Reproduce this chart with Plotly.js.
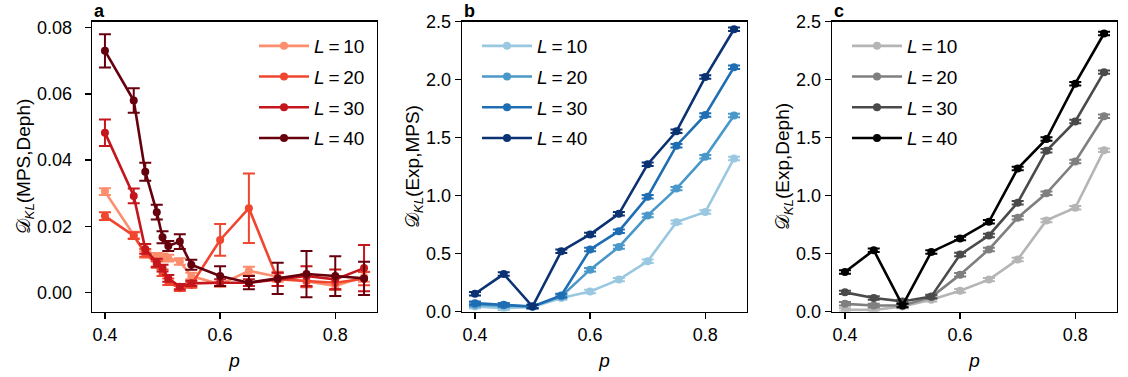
<!DOCTYPE html>
<html>
<head>
<meta charset="utf-8">
<script src="https://cdn.plot.ly/plotly-3.0.1.min.js"></script>
<style>html,body{margin:0;padding:0;background:#fff;}#plot{width:1128px;height:377px;}</style>
</head>
<body>
<div id="plot"></div>
<script>
// ---- data ----
const pA = [0.4, 0.45, 0.47, 0.49, 0.5, 0.51, 0.53, 0.55, 0.6, 0.65, 0.7, 0.75, 0.8, 0.85];
const pBC = [0.4, 0.45, 0.5, 0.55, 0.6, 0.65, 0.7, 0.75, 0.8, 0.85];
const seriesNames = ["<i>L</i>\u2009=\u200910", "<i>L</i>\u2009=\u200920", "<i>L</i>\u2009=\u200930", "<i>L</i>\u2009=\u200940"];

// Panel a: D_KL(MPS,Deph)
const a_L10 = [0.0305, 0.0174, 0.0115, 0.0110, 0.0108, 0.0104, 0.0094, 0.0050, 0.0025, 0.0066, 0.0048, 0.0033, 0.0020, 0.0048];
const a_L20 = [0.0231, 0.0172, 0.0120, 0.0085, 0.0060, 0.0033, 0.0013, 0.0023, 0.0159, 0.0255, 0.0040, 0.0036, 0.0030, 0.0042];
const a_L30 = [0.0483, 0.0292, 0.0132, 0.0090, 0.0074, 0.0043, 0.0018, 0.0028, 0.0030, 0.0030, 0.0040, 0.0050, 0.0040, 0.0074];
const a_L40 = [0.0730, 0.0580, 0.0365, 0.0243, 0.0167, 0.0141, 0.0154, 0.0084, 0.0050, 0.0030, 0.0043, 0.0056, 0.0050, 0.0043];
const a_err10 = [0.0010, 0.0010, 0.0010, 0.0010, 0.0010, 0.0010, 0.0010, 0.0010, 0.0008, 0.0012, 0.0015, 0.0015, 0.0012, 0.0015];
const a_err20 = [0.0012, 0.0010, 0.0012, 0.0010, 0.0010, 0.0010, 0.0008, 0.0008, 0.0048, 0.0105, 0.0020, 0.0020, 0.0020, 0.0020];
const a_err30 = [0.0040, 0.0022, 0.0015, 0.0012, 0.0010, 0.0010, 0.0008, 0.0008, 0.0010, 0.0010, 0.0020, 0.0030, 0.0030, 0.0070];
const a_err40 = [0.0050, 0.0037, 0.0027, 0.0022, 0.0018, 0.0015, 0.0022, 0.0015, 0.0030, 0.0020, 0.0047, 0.0070, 0.0060, 0.0050];

// Panel b: D_KL(Exp,MPS)
const b_L10 = [0.043, 0.029, 0.040, 0.116, 0.173, 0.275, 0.433, 0.771, 0.858, 1.320];
const b_L20 = [0.058, 0.052, 0.043, 0.130, 0.361, 0.557, 0.829, 1.060, 1.334, 1.690];
const b_L30 = [0.072, 0.058, 0.043, 0.139, 0.535, 0.693, 0.990, 1.430, 1.696, 2.108];
const b_L40 = [0.153, 0.323, 0.043, 0.520, 0.665, 0.843, 1.271, 1.554, 2.022, 2.435];
const b_err = [0.015, 0.015, 0.015, 0.015, 0.015, 0.015, 0.015, 0.015, 0.015, 0.015];

// Panel c: D_KL(Exp,Deph)
const c_L10 = [0.014, 0.014, 0.043, 0.101, 0.179, 0.275, 0.448, 0.786, 0.895, 1.392];
const c_L20 = [0.066, 0.052, 0.052, 0.124, 0.318, 0.535, 0.809, 1.020, 1.294, 1.684];
const c_L30 = [0.165, 0.116, 0.087, 0.130, 0.491, 0.656, 0.939, 1.387, 1.640, 2.065];
const c_L40 = [0.341, 0.529, 0.052, 0.514, 0.630, 0.774, 1.233, 1.488, 1.965, 2.398];
const c_err = [0.015, 0.015, 0.015, 0.015, 0.015, 0.015, 0.015, 0.015, 0.015, 0.015];

// ---- styles ----
const redColors = ["#fc8d6d", "#f0452f", "#c4161c", "#67000d"];
const blueColors = ["#9ac8e0", "#4a98c9", "#1f6eb3", "#0b3272"];
const greyColors = ["#b5b5b5", "#7f7f7f", "#4a4a4a", "#000000"];

function mk(x, y, err, color, name, xa, ya, leg, grp) {
  return {
    x: x, y: y, type: "scatter", mode: "lines+markers", name: name,
    xaxis: xa, yaxis: ya, legend: leg, legendgroup: grp,
    line: {color: color, width: 2.6},
    marker: {color: color, size: 8},
    error_y: {type: "data", array: err, visible: true, color: color, thickness: 2, width: 6}
  };
}

const traces = [];
const aY = [a_L10, a_L20, a_L30, a_L40];
const aE = [a_err10, a_err20, a_err30, a_err40];
for (let i = 0; i < 4; i++) traces.push(mk(pA, aY[i], aE[i], redColors[i], seriesNames[i], "x", "y", "legend", "a" + i));
const bY = [b_L10, b_L20, b_L30, b_L40];
for (let i = 0; i < 4; i++) traces.push(mk(pBC, bY[i], b_err, blueColors[i], seriesNames[i], "x2", "y2", "legend2", "b" + i));
const cY = [c_L10, c_L20, c_L30, c_L40];
for (let i = 0; i < 4; i++) traces.push(mk(pBC, cY[i], c_err, greyColors[i], seriesNames[i], "x3", "y3", "legend3", "c" + i));

const W = 1128, H = 377;
const font = {family: "Liberation Sans, Arial, sans-serif", size: 17, color: "#000"};
const yDom = [(H - 311.5) / H, (H - 21.7) / H];

function xaxis(dom, anchor) {
  return {
    domain: dom, anchor: anchor, range: [0.3775, 0.8725],
    tickvals: [0.4, 0.6, 0.8], ticktext: ["0.4", "0.6", "0.8"],
    ticks: "outside", ticklen: 6, tickwidth: 1.4, tickcolor: "#000",
    showline: true, linecolor: "#000", linewidth: 1.4, mirror: true,
    showgrid: false, zeroline: false, tickfont: {size: 18},
    title: {text: "<i>p</i>", font: {size: 19}, standoff: 10}
  };
}
function yaxis(anchor, range, tv, tt, title, lblOff) {
  return {
    domain: yDom, anchor: anchor, range: range,
    tickvals: tv, ticktext: tt,
    ticks: "outside", ticklen: 6, tickwidth: 1.4, tickcolor: "#000",
    showline: true, linecolor: "#000", linewidth: 1.4, mirror: true,
    showgrid: false, zeroline: false, tickfont: {size: 18}, ticklabelstandoff: lblOff,
    title: {text: title, font: {size: 19}, standoff: 1}
  };
}
function legend(xpx, ypx) {
  return {
    x: xpx / W, y: 1 - ypx / H, xanchor: "left", yanchor: "top",
    bgcolor: "rgba(0,0,0,0)", borderwidth: 0, font: {size: 19},
    tracegroupgap: 3, itemwidth: 50, traceorder: "grouped"
  };
}

const layout = {
  width: W, height: H, margin: {l: 0, r: 0, t: 0, b: 0},
  paper_bgcolor: "#fff", plot_bgcolor: "#fff", font: font, showlegend: true,
  xaxis: xaxis([92 / W, 377 / W], "y"),
  xaxis2: xaxis([462 / W, 747 / W], "y2"),
  xaxis3: xaxis([832 / W, 1117 / W], "y3"),
  yaxis: yaxis("x", [-0.0057, 0.0818], [0, 0.02, 0.04, 0.06, 0.08], ["0.00", "0.02", "0.04", "0.06", "0.08"], "𝒟<sub><i>KL</i></sub>(MPS,Deph)", 9),
  yaxis2: yaxis("x2", [0, 2.5], [0, 0.5, 1, 1.5, 2, 2.5], ["0.0", "0.5", "1.0", "1.5", "2.0", "2.5"], "𝒟<sub><i>KL</i></sub>(Exp,MPS)", 0),
  yaxis3: yaxis("x3", [0, 2.5], [0, 0.5, 1, 1.5, 2, 2.5], ["0.0", "0.5", "1.0", "1.5", "2.0", "2.5"], "𝒟<sub><i>KL</i></sub>(Exp,Deph)", 0),
  legend: legend(254, 27),
  legend2: legend(477, 27),
  legend3: legend(847, 27),
  annotations: [
    {text: "<b>a</b>", x: 92 / W, y: 1 - 11 / H, xref: "paper", yref: "paper", xanchor: "left", yanchor: "middle", showarrow: false, font: {size: 18}},
    {text: "<b>b</b>", x: 462 / W, y: 1 - 11 / H, xref: "paper", yref: "paper", xanchor: "left", yanchor: "middle", showarrow: false, font: {size: 18}},
    {text: "<b>c</b>", x: 832 / W, y: 1 - 11 / H, xref: "paper", yref: "paper", xanchor: "left", yanchor: "middle", showarrow: false, font: {size: 18}}
  ]
};

Plotly.newPlot("plot", traces, layout, {staticPlot: true, displayModeBar: false});
</script>
</body>
</html>
